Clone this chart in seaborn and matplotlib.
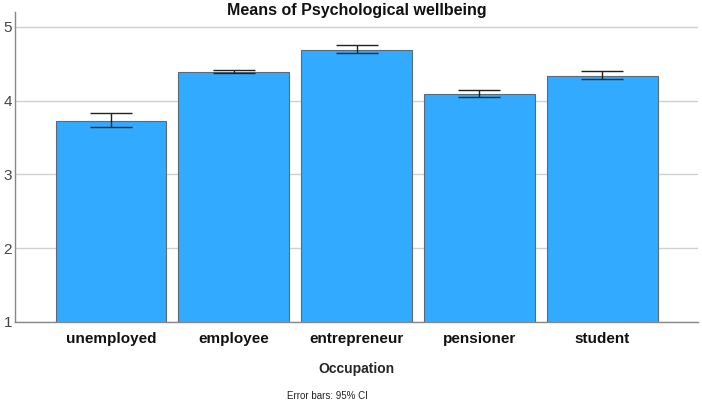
import numpy as np
import pandas as pd
import matplotlib
matplotlib.use('Agg')
import matplotlib.pyplot as plt
import seaborn as sns

# Data
occupations = ['unemployed', 'employee', 'entrepreneur', 'pensioner', 'student']
means = [3.73, 4.39, 4.69, 4.09, 4.34]
ci_low = [3.64, 4.37, 4.64, 4.05, 4.29]
ci_high = [3.83, 4.42, 4.75, 4.14, 4.40]

df = pd.DataFrame({'Occupation': occupations, 'Mean': means})

sns.set_style('white')
plt.rcParams['font.family'] = ['Liberation Sans', 'DejaVu Sans']

fig = plt.figure(figsize=(7.02, 4.04), dpi=100)
ax = fig.add_axes([0.0214, 0.203, 0.973, 0.767])

sns.barplot(x='Occupation', y='Mean', data=df, color='#31aaff', saturation=1,
            width=0.9, errorbar=None, edgecolor='#5a6a78', linewidth=0.8, ax=ax,
            zorder=2)

# 95% CI error bars
yerr = np.array([np.array(means) - np.array(ci_low), np.array(ci_high) - np.array(means)])
ax.errorbar(range(len(occupations)), means, yerr=yerr, fmt='none', ecolor='#222222',
            elinewidth=1.0, capsize=15, capthick=1.0, zorder=3)

ax.set_ylim(1, 5.2)
ax.set_xlim(-0.78, 4.78)
ax.set_yticks([1, 2, 3, 4, 5])
ax.yaxis.grid(True, color='#d0d0d0', linewidth=1, zorder=0)
ax.set_axisbelow(True)
sns.despine(ax=ax, top=True, right=True)
for s in ['left', 'bottom']:
    ax.spines[s].set_color('#888888')
    ax.spines[s].set_linewidth(1)

ax.tick_params(axis='y', labelsize=11, labelcolor='#444444', length=0, pad=2)
ax.tick_params(axis='x', labelsize=11, labelcolor='#111111', length=0, pad=7)
for lbl in ax.get_xticklabels():
    lbl.set_fontweight('bold')

ax.set_ylabel('')
ax.set_xlabel('Occupation', fontsize=10, fontweight='bold', labelpad=12)

fig.text(0.508, 1 - 10 / 404, 'Means of Psychological wellbeing', fontsize=11.5,
         fontweight='bold', ha='center', va='center', color='#111111')
fig.text(0.467, 0.012, 'Error bars: 95% CI', fontsize=7, ha='center', color='#222222')

fig.savefig('out.png', dpi=100)
